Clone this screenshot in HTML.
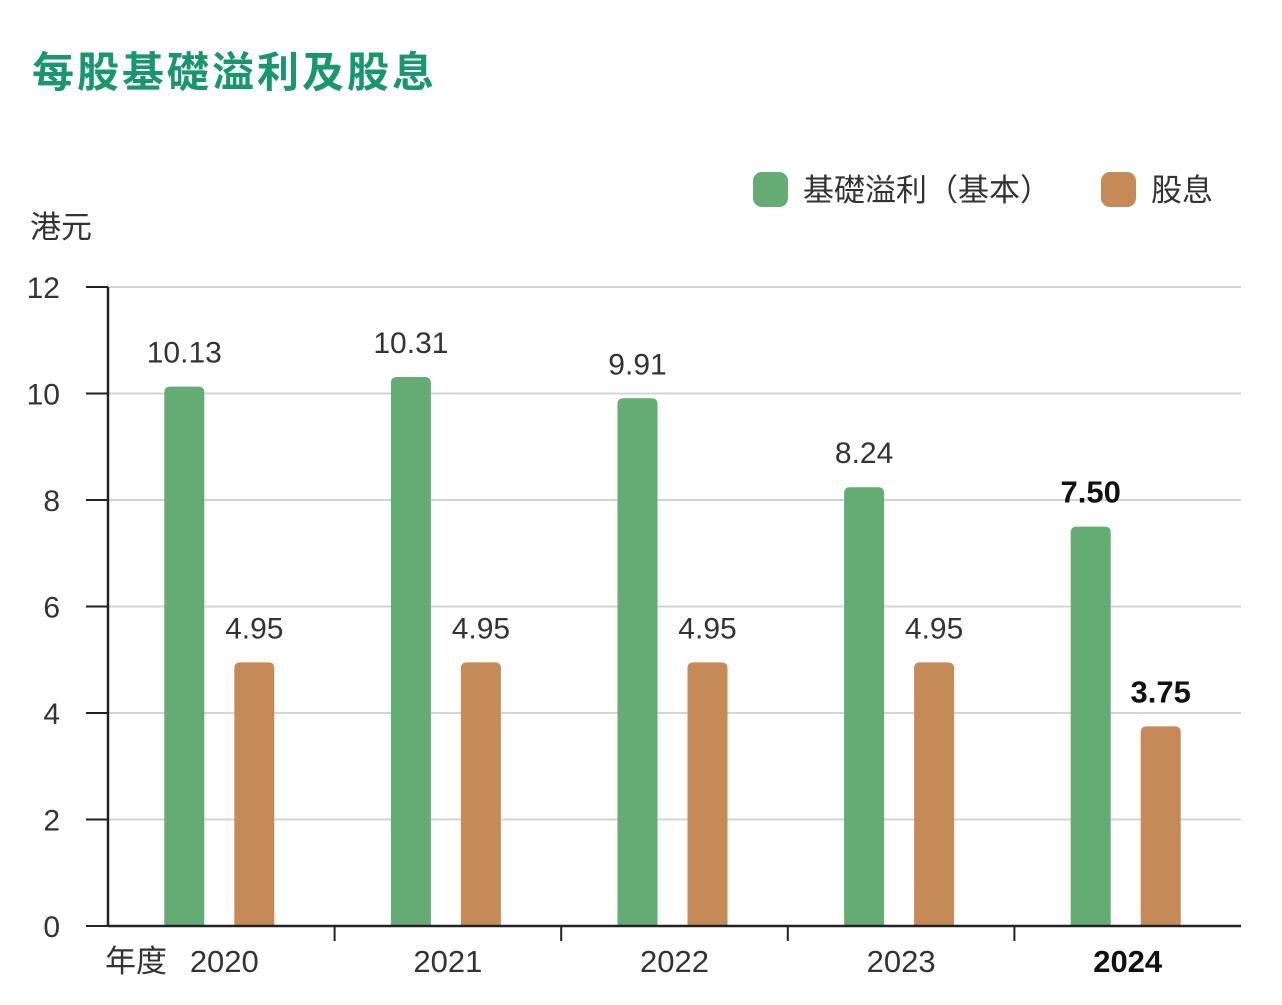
<!DOCTYPE html>
<html><head><meta charset="utf-8">
<style>
html,body{margin:0;padding:0;background:#fff;}
body{width:1282px;height:1000px;overflow:hidden;font-family:"Liberation Sans","Noto Sans CJK TC",sans-serif;}
svg text{font-family:"Liberation Sans","Noto Sans CJK TC",sans-serif;}
</style></head>
<body>
<svg id="chart" width="1282" height="1000" xmlns="http://www.w3.org/2000/svg">
<text x="32" y="87" font-size="42" fill="#17976b" font-weight="bold" letter-spacing="3">每股基礎溢利及股息</text>
<text x="30" y="238" font-size="31" fill="#333">港元</text>
<g>
<rect x="753" y="172" width="35" height="35" rx="9" fill="#64ab74"/>
<text x="803" y="201" font-size="31" fill="#333">基礎溢利（基本）</text>
<rect x="1101" y="172" width="35" height="35" rx="9" fill="#c68a58"/>
<text x="1151" y="201" font-size="31" fill="#333">股息</text>
</g>
<g id="grid"></g><g id="bars"></g><g id="axes"></g>
</svg>
<script>
const categories = ["2020","2021","2022","2023","2024"];
const epsValues = [10.13,10.31,9.91,8.24,7.50];
const dividendValues = [4.95,4.95,4.95,4.95,3.75];
const yTicks = [0,2,4,6,8,10,12];
const epsLabels = ["10.13","10.31","9.91","8.24","7.50"];
const dividendLabels = ["4.95","4.95","4.95","4.95","3.75"];

const NS="http://www.w3.org/2000/svg";
const x0=108,x1=1241,y0=926,yTop=287,yMax=12;
const groupW=(x1-x0)/categories.length;
function yScale(v){return y0-(v/yMax)*(y0-yTop);}
function xGroup(i){return x0+groupW*i+groupW/2;}
function mk(tag,attrs,parent){const e=document.createElementNS(NS,tag);for(const k in attrs)e.setAttribute(k,attrs[k]);parent.appendChild(e);return e;}
const grid=document.getElementById('grid'),bars=document.getElementById('bars'),axes=document.getElementById('axes');

yTicks.forEach(t=>{
  const y=yScale(t);
  if(t>0){const g=mk('line',{x1:x0,x2:x1,y1:y,y2:y,stroke:'#d4d4d4','stroke-width':2},grid);
  
  }
  const tk=mk('line',{x1:x0-22,x2:x0,y1:y,y2:y,stroke:'#222','stroke-width':2},axes);
  
  
  const lb=mk('text',{x:60,y:y+11,'font-size':30,fill:'#333','text-anchor':'end'},axes);
  lb.textContent=t;
  
  
});

function bar(cx,v,color,label,bold,name){
  const top=yScale(v),w=40;
  const p=mk('path',{d:`M${cx-w/2},${y0} V${top+6} Q${cx-w/2},${top} ${cx-w/2+6},${top} H${cx+w/2-6} Q${cx+w/2},${top} ${cx+w/2},${top+6} V${y0} Z`,fill:color},bars);
  
  
  const t=mk('text',{x:cx,y:top-24,'font-size':bold?31:30,fill:bold?'#111':'#333','text-anchor':'middle','font-weight':bold?'bold':'normal'},bars);
  t.textContent=label;
  
  
}
categories.forEach((c,i)=>{
  const cx=xGroup(i);const last=i===categories.length-1;
  bar(cx-37,epsValues[i],'#64ab74',epsLabels[i],last,'bar-eps-'+c);
  bar(cx+33,dividendValues[i],'#c68a58',dividendLabels[i],last,'bar-dividend-'+c);
  const xl=mk('text',{x:i===0?cx+3:cx,y:972,'font-size':31,fill:last?'#111':'#333','text-anchor':'middle','font-weight':last?'bold':'normal'},axes);
  xl.textContent=c;
  
  
  if(i>0){const tk=mk('line',{x1:x0+groupW*i,x2:x0+groupW*i,y1:y0,y2:y0+15,stroke:'#222','stroke-width':2},axes);
  
  }
});
const ya=mk('line',{x1:x0,x2:x0,y1:yTop,y2:y0+1,stroke:'#222','stroke-width':2.5},axes);


const xa=mk('line',{x1:x0,x2:x1,y1:y0,y2:y0,stroke:'#222','stroke-width':2.5},axes);


const yr=mk('text',{x:105,y:972,'font-size':31,fill:'#333'},axes);
yr.textContent='年度';


</script>
</body></html>
